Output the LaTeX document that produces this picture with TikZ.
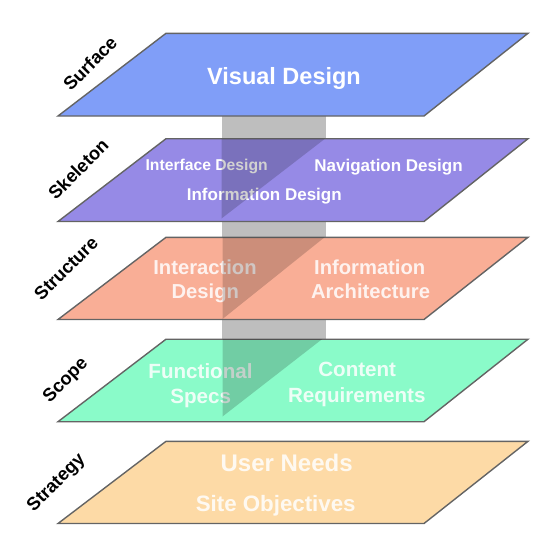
\documentclass[tikz,border=0pt]{standalone}
\usepackage{fontspec}
\setmainfont{Liberation Sans}
\definecolor{cSurface}{RGB}{128,158,248}
\definecolor{cSkeleton}{RGB}{150,138,230}
\definecolor{cStructure}{RGB}{249,174,150}
\definecolor{cScope}{RGB}{138,251,201}
\definecolor{cStrategy}{RGB}{253,218,166}
\definecolor{cBorder}{RGB}{100,100,100}
\definecolor{cColumn}{RGB}{190,190,190}
\begin{document}
\begin{tikzpicture}[x=1pt,y=-1pt,
  layer/.style={draw=cBorder, line width=1.4pt, line join=miter},
  lbl/.style={font=\fontsize{18.3}{18.3}\selectfont\bfseries, rotate=45, text=black, inner sep=0pt},
  wt/.style={text=white, inner sep=0pt, anchor=base},
  soft/.style={text opacity=0.85},
  shadetri/.style={fill=black, fill opacity=0.18},
  column/.style={fill=cColumn}]
\useasboundingbox (0,0) rectangle (559,552);
% column behind the layers
\fill[column] (221.5,116) rectangle (325.5,339);
% Surface
\fill[layer, fill=cSurface] (166,33.3) -- (528,33.3) -- (424,116) -- (58,116) -- cycle;
\node[wt, font=\fontsize{23.5}{23.5}\selectfont\bfseries] (vd) at (284,84.5) {Visual Design};
% Skeleton
\fill[layer, fill=cSkeleton] (166,138.7) -- (528,138.7) -- (424,221.5) -- (58,221.5) -- cycle;
\node[wt, font=\fontsize{15.7}{15.7}\selectfont\bfseries] (ifd) at (206.7,170) {Interface Design};
\node[wt, font=\fontsize{17}{17}\selectfont\bfseries] (nd) at (388.5,171) {Navigation Design};
\node[wt, font=\fontsize{17}{17}\selectfont\bfseries] (infd) at (264.3,200.7) {Information Design};
\fill[shadetri] (221.5,138.7) -- (325,138.7) -- (221.5,218.5) -- cycle;
% Structure
\fill[layer, fill=cStructure] (166,237.3) -- (528,237.3) -- (424,319.5) -- (58,319.5) -- cycle;
\node[wt, soft, font=\fontsize{20.2}{20.2}\selectfont\bfseries] (ia1) at (205,274) {Interaction};
\node[wt, soft, font=\fontsize{20.2}{20.2}\selectfont\bfseries] (ia2) at (205.3,298.3) {Design};
\node[wt, soft, font=\fontsize{20.2}{20.2}\selectfont\bfseries] (ir1) at (369.7,274) {Information};
\node[wt, soft, font=\fontsize{20.2}{20.2}\selectfont\bfseries] (ir2) at (370.5,298.3) {Architecture};
\fill[shadetri] (222.5,237.3) -- (324.5,237.3) -- (222.5,319) -- cycle;
% Scope
\fill[layer, fill=cScope] (166,339.2) -- (528,339.2) -- (424,421.7) -- (58,421.7) -- cycle;
\node[wt, soft, font=\fontsize{20.6}{20.6}\selectfont\bfseries] (fs1) at (200.5,378.3) {Functional};
\node[wt, soft, font=\fontsize{20.6}{20.6}\selectfont\bfseries] (fs2) at (200.7,403) {Specs};
\node[wt, soft, font=\fontsize{20.6}{20.6}\selectfont\bfseries] (cr1) at (357.2,376.7) {Content};
\node[wt, soft, font=\fontsize{20.6}{20.6}\selectfont\bfseries] (cr2) at (356.8,402) {Requirements};
\fill[shadetri] (222.5,339.2) -- (322,339.2) -- (222.5,416.5) -- cycle;
% Strategy
\fill[layer, fill=cStrategy] (166,441.3) -- (528,441.3) -- (424,523.5) -- (58,523.5) -- cycle;
\node[wt, soft, font=\fontsize{24}{24}\selectfont\bfseries] (un) at (286.7,471.7) {User Needs};
\node[wt, soft, font=\fontsize{22.3}{22.3}\selectfont\bfseries] (so) at (275.7,511.7) {Site Objectives};
% side labels
\node[lbl] (lsurf) at (90,63.3) {Surface};
\node[lbl] (lskel) at (78.3,169.2) {Skeleton};
\node[lbl] (lstru) at (66,268.3) {Structure};
\node[lbl] (lscop) at (66,381) {Scope};
\node[lbl] (lstra) at (56.7,483.3) {Strategy};
\end{tikzpicture}
\end{document}
